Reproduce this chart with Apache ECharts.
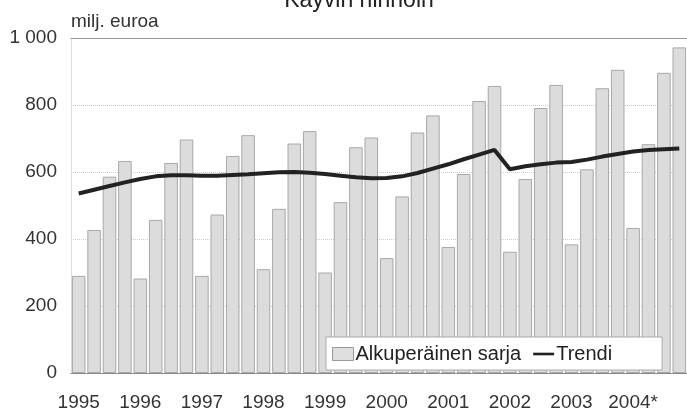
<!DOCTYPE html>
<html><head><meta charset="utf-8">
<script src="https://cdn.jsdelivr.net/npm/echarts@6/dist/echarts.min.js"></script>
<style>html,body{margin:0;padding:0;background:#fff}#c{width:687px;height:412px}</style>
</head><body><div id="c"></div>
<script>
const years = ['1995','1996','1997','1998','1999','2000','2001','2002','2003','2004*'];
const quarters = ['Q1','Q2','Q3','Q4'];
const categories = [];
years.forEach(y => quarters.forEach(q => categories.push(y + ' ' + q)));
const original = [
  290, 427, 586, 633,
  282, 457, 627, 697,
  290, 473, 648, 710,
  310, 490, 685, 722,
  300, 510, 674, 703,
  343, 527, 718, 769,
  376, 594, 812, 857,
  362, 579, 791, 860,
  384, 608, 850, 905,
  433, 683, 896, 972
];
const trend = [
  536, 547, 558, 569,
  579, 587, 590, 590,
  589, 589, 591, 593,
  596, 599, 600, 598,
  594, 589, 584, 581,
  582, 587, 597, 610,
  623, 638, 652, 666,
  608, 617, 623, 628,
  630, 637, 646, 654,
  661, 666, 668, 670
];
const yTicks = [0, 200, 400, 600, 800, 1000];
const font = 'Liberation Sans, Arial, sans-serif';
const chart = echarts.init(document.getElementById('c'));
chart.setOption({
  animation: false,
  backgroundColor: '#fff',
  title: {
    text: 'Käyvin hinnoin', left: 354, top: -16, textAlign: 'center',
    textStyle: { fontFamily: font, fontSize: 23, fontWeight: 'normal', color: '#222' }
  },
  grid: { left: 71, right: -8, top: 38, bottom: 39 },
  legend: {
    left: 326, top: 337,
    padding: [7, 50, 6, 6], itemGap: 12,
    backgroundColor: '#fff', borderColor: '#aaa', borderWidth: 1,
    itemWidth: 21, itemHeight: 13,
    textStyle: { fontFamily: font, fontSize: 20, color: '#222', padding: [0, 0, 0, -3] },
    data: [
      { name: 'Alkuperäinen sarja', icon: 'rect', itemStyle: { color: '#dedede', borderColor: '#999', borderWidth: 1 } },
      { name: 'Trendi', icon: 'path://M0,0 L24,0 L24,3 L0,3 Z', itemStyle: { color: '#222' } }
    ]
  },
  xAxis: [{
    type: 'category', data: categories, boundaryGap: true,
    axisLine: { lineStyle: { color: '#888', width: 1 } },
    axisTick: { alignWithLabel: true, length: 5, lineStyle: { color: '#ccc' }, interval: (i) => i % 4 === 0 },
    axisLabel: {
      interval: (i) => i % 4 === 0,
      formatter: (v, i) => years[Math.floor(i / 4)],
      fontFamily: font, fontSize: 19, color: '#333', margin: 20
    }
  }, {
    type: 'category', data: categories, position: 'top',
    axisLine: { lineStyle: { color: '#999', width: 1 } },
    axisTick: { show: false }, axisLabel: { show: false }
  }],
  yAxis: {
    type: 'value', min: 0, max: 1000, interval: 200,
    axisLine: { show: true, lineStyle: { color: '#ddd' } },
    axisTick: { show: false },
    splitLine: { lineStyle: { color: '#ccc', type: 'dotted' } },
    axisLabel: {
      fontFamily: font, fontSize: 19, color: '#333', margin: 14,
      formatter: (v) => yTicks.includes(v) ? (v >= 1000 ? '1 000' : String(v)) : ''
    },
    name: 'milj. euroa', nameLocation: 'end', nameGap: 7,
    nameTextStyle: { fontFamily: font, fontSize: 19, color: '#333', align: 'left', padding: [0, 0, 0, 0] }
  },
  series: [{
    name: 'Alkuperäinen sarja', type: 'bar', data: original,
    barCategoryGap: '12%',
    itemStyle: { color: '#dcdcdc', borderColor: '#a8a8a8', borderWidth: 1 }
  }, {
    name: 'Trendi', type: 'line', data: trend, symbol: 'none', smooth: false,
    lineStyle: { color: '#222', width: 4 }
  }]
});
</script></body></html>
